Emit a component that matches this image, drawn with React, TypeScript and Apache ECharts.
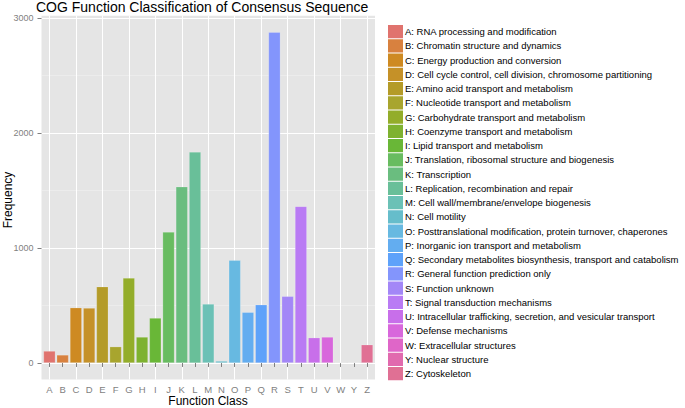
import React, { useEffect, useRef } from "react";
import * as echarts from "echarts";

const categories = ["A","B","C","D","E","F","G","H","I","J","K","L","M","N","O","P","Q","R","S","T","U","V","W","Y","Z"];
const descriptions = [
  "A: RNA processing and modification",
  "B: Chromatin structure and dynamics",
  "C: Energy production and conversion",
  "D: Cell cycle control, cell division, chromosome partitioning",
  "E: Amino acid transport and metabolism",
  "F: Nucleotide transport and metabolism",
  "G: Carbohydrate transport and metabolism",
  "H: Coenzyme transport and metabolism",
  "I: Lipid transport and metabolism",
  "J: Translation, ribosomal structure and biogenesis",
  "K: Transcription",
  "L: Replication, recombination and repair",
  "M: Cell wall/membrane/envelope biogenesis",
  "N: Cell motility",
  "O: Posttranslational modification, protein turnover, chaperones",
  "P: Inorganic ion transport and metabolism",
  "Q: Secondary metabolites biosynthesis, transport and catabolism",
  "R: General function prediction only",
  "S: Function unknown",
  "T: Signal transduction mechanisms",
  "U: Intracellular trafficking, secretion, and vesicular transport",
  "V: Defense mechanisms",
  "W: Extracellular structures",
  "Y: Nuclear structure",
  "Z: Cytoskeleton",
];
const frequencies = [104, 70, 481, 478, 664, 142, 739, 226, 391, 1139, 1533, 1835, 513, 17, 893, 441, 507, 2876, 580, 1362, 220, 226, 1, 2, 159];

const colors = [
  "#E0736E", "#D8813F", "#CE8A22", "#C59128", "#B49B28", "#A8A52E", "#93AD2A", "#7EB230",
  "#69B737", "#68BC60", "#6ABD7F", "#69BF99", "#6BC1B6", "#66BDCB", "#67B9E1", "#63ADF0",
  "#5EA2FA", "#8395FC", "#A387F7", "#B97BF4", "#C86FEA", "#D867DC", "#DF66C8", "#E16AAE", "#E07094",
];

const FONT = "Liberation Sans, Arial, Helvetica, sans-serif";
const GREY50 = "#7F7F7F";

export default function App() {
  const ref = useRef<HTMLDivElement>(null);
  useEffect(() => {
    if (!ref.current) return;
    const chart = echarts.init(ref.current, undefined, { renderer: "svg" });
    const series = descriptions.map((name, i) => ({
      name,
      type: "bar",
      stack: "all",
      xAxisIndex: 3,
      yAxisIndex: 3,
      barWidth: 11.9,
      itemStyle: { color: colors[i], borderColor: "rgba(255,255,255,0.3)", borderWidth: 0.6 },
      data: frequencies.map((v, j) => (j === i ? v : "-")),
    }));
    chart.setOption({
      animation: false,
      textStyle: { fontFamily: FONT },
      title: {
        text: "COG Function Classification of Consensus Sequence",
        left: 36,
        top: 0,
        padding: 0,
        textStyle: { fontSize: 14, fontWeight: "normal", color: "#000", fontFamily: FONT },
      },
      grid: [
        { left: 41.5, right: 310, top: 15.7, bottom: 28.5, show: true, backgroundColor: "#E5E5E5", borderWidth: 0 },
        { left: 41.5, right: 310, top: 18, bottom: 45 },
        { left: 49.4, right: 317.9, top: 15.7, bottom: 28.5 },
        { left: 42.8, right: 311.3, top: 15.7, bottom: 28.5 },
      ],
      xAxis: [
        { gridIndex: 0, type: "value", show: false },
        { gridIndex: 1, type: "value", show: false },
        {
          gridIndex: 2,
          type: "category",
          boundaryGap: false,
          data: categories,
          axisLine: { show: false },
          axisTick: { show: false },
          axisLabel: { show: false },
          splitLine: { show: true, lineStyle: { color: "#FFFFFF", width: 1 } },
        },
        {
          gridIndex: 3,
          type: "category",
          data: categories,
          axisLine: { show: false },
          axisTick: { show: true, alignWithLabel: true, length: 4, lineStyle: { color: GREY50 } },
          axisLabel: { color: GREY50, fontSize: 9.5, margin: 5, fontFamily: FONT },
          splitLine: { show: false },
        },
      ],
      yAxis: [
        { gridIndex: 0, type: "value", show: false },
        {
          gridIndex: 1,
          type: "value",
          min: 0,
          max: 3000,
          interval: 1000,
          axisLine: { show: false },
          axisTick: { show: true, length: 4, lineStyle: { color: GREY50 } },
          axisLabel: { color: GREY50, fontSize: 9, margin: 8, fontFamily: FONT, formatter: (v: number) => String(v) },
          splitLine: { show: true, lineStyle: { color: "#FFFFFF", width: 1 } },
          minorTick: { show: false, splitNumber: 2 },
          minorSplitLine: { show: true, lineStyle: { color: "#F2F2F2", width: 0.5 } },
        },
        { gridIndex: 2, type: "value", show: false },
        { gridIndex: 3, type: "value", min: -143.8, max: 3019.8, show: false },
      ],
      legend: {
        orient: "vertical",
        left: 388,
        top: 25,
        padding: 0,
        itemWidth: 15,
        itemHeight: 13.25,
        itemGap: 1,
        icon: "rect",
        selectedMode: false,
        itemStyle: { borderWidth: 0 },
        textStyle: { fontSize: 9.5, color: "#000", fontFamily: FONT, padding: [0, 0, 0, -3] },
        data: descriptions,
      },
      graphic: [
        {
          type: "text",
          x: 8,
          y: 200,
          rotation: Math.PI / 2,
          style: { text: "Frequency", fontSize: 12, fill: "#000", fontFamily: FONT, align: "center", verticalAlign: "middle" },
        },
        {
          type: "text",
          x: 208,
          y: 401,
          style: { text: "Function Class", fontSize: 12, fill: "#000", fontFamily: FONT, align: "center", verticalAlign: "middle" },
        },
      ],
      series,
    });
    return () => chart.dispose();
  }, []);
  return <div ref={ref} style={{ position: "absolute", left: 0, top: 0, width: 685, height: 408 }} />;
}
